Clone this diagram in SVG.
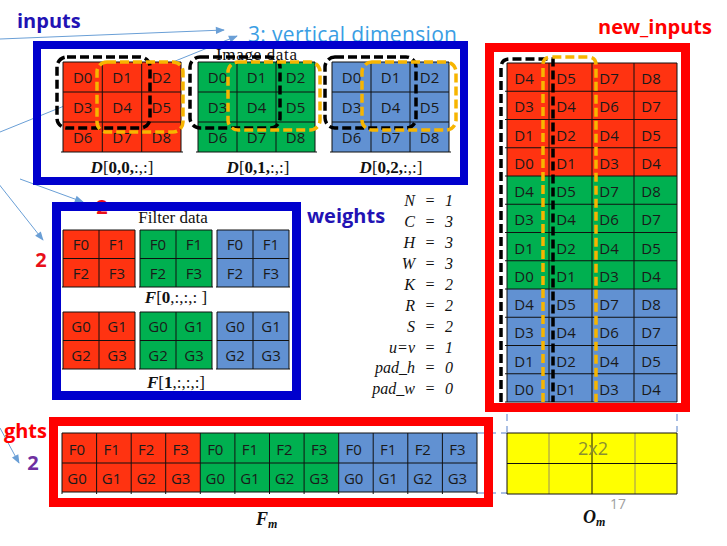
<svg xmlns="http://www.w3.org/2000/svg" width="727" height="546" viewBox="0 0 727 546">
<defs>
<style>
.rc{fill:#FF3311}.gc{fill:#00B050}.bc{fill:#6191D2}.yc{fill:#FFFF00}
.ln{stroke:#111;stroke-width:1;fill:none}
.ct{font-family:"Open Sans","Liberation Sans",sans-serif;font-size:15px;fill:#1a1a1a;text-anchor:middle}
.ttl{font-family:"Open Sans","Liberation Sans",sans-serif;font-size:20px;font-weight:bold}
.ser{font-family:"Liberation Serif","DejaVu Serif",serif;fill:#111}
.par{font-family:"Liberation Serif","DejaVu Serif",serif;font-style:italic;font-size:16px;fill:#111}
.arr{stroke:#6a9fd6;stroke-width:1;fill:none;marker-end:url(#ah)}
.kd{fill:none;stroke:#000;stroke-width:3.5;stroke-dasharray:9 4}
.yd{fill:none;stroke:#F7B500;stroke-width:3.5;stroke-dasharray:9 4}
.gd{fill:none;stroke:#8eaadb;stroke-width:1.5;stroke-dasharray:7 5}
.bbox{fill:none;stroke:#0000CD}
.rbox{fill:none;stroke:#FF0000}
</style>
<marker id="ah" viewBox="0 0 10 10" refX="9" refY="5" markerWidth="10" markerHeight="9" orient="auto" markerUnits="userSpaceOnUse"><path d="M0,1 L10,5 L0,9 z" fill="#6a9fd6"/></marker>
</defs>
<rect width="727" height="546" fill="#fff"/>

<!-- texts partly hidden behind boxes -->
<g id="labels-behind">
<text x="216" y="60" class="ser" font-size="17" textLength="81">Image data</text>
<text x="248" y="42" font-family="'Open Sans','Liberation Sans',sans-serif" font-size="21" fill="#3a9ee4" textLength="209">3: vertical dimension</text>
<text x="102" y="214" class="ttl" font-size="18" fill="#E8101A" text-anchor="middle">2</text>
</g>

<g id="connectors">
<path class="arr" d="M0,39 L224,30"/>
<path class="arr" d="M0,132 L237,36"/>
<path class="arr" d="M-2,183 L43,240"/>
<path class="arr" d="M20,179 L83,202"/>
<path class="arr" d="M0,428 L19,463"/>
<path class="gd" d="M507,414V432M677,414V432M477,433H507M477,493H507"/>
</g>

<g id="title-inputs"><text x="17" y="28" class="ttl" fill="#2212B4">inputs</text></g>
<g id="title-weights"><text x="307" y="223" class="ttl" fill="#2212B4">weights</text></g>
<g id="title-new-inputs"><text x="598" y="34" class="ttl" fill="#FF0000">new_inputs</text></g>
<g id="title-weights-cut"><text x="47" y="438" class="ttl" fill="#FF0000" text-anchor="end">ghts</text></g>
<g id="label-2-left"><text x="41" y="267" class="ttl" fill="#E8101A" text-anchor="middle">2</text></g>
<g id="label-2-purple"><text x="33" y="470" class="ttl" font-size="18" fill="#7030A0" text-anchor="middle">2</text></g>

<!-- Image data box -->
<g id="image-data">
<rect x="63" y="62" width="118" height="90" class="rc"/>
<path class="ln" d="M63,62H181M63,92H181M63,122H181M61,152H183M63,62V152M102.3,62V152M141.7,62V152M181,62V152"/>
<rect x="198" y="62" width="117" height="90" class="gc"/>
<path class="ln" d="M198,62H315M198,92H315M198,122H315M196,152H317M198,62V152M237,62V152M276,62V152M315,62V152"/>
<rect x="332" y="62" width="117" height="90" class="bc"/>
<path class="ln" d="M332,62H449M332,92H449M332,122H449M330,152H451M332,62V152M371,62V152M410,62V152M449,62V152"/>
<g class="ct" font-size="16">
<text x="82.7" y="83">D0</text><text x="122" y="83">D1</text><text x="161.3" y="83">D2</text>
<text x="82.7" y="113">D3</text><text x="122" y="113">D4</text><text x="161.3" y="113">D5</text>
<text x="82.7" y="143">D6</text><text x="122" y="143">D7</text><text x="161.3" y="143">D8</text>
<text x="217.5" y="83">D0</text><text x="256.5" y="83">D1</text><text x="295.5" y="83">D2</text>
<text x="217.5" y="113">D3</text><text x="256.5" y="113">D4</text><text x="295.5" y="113">D5</text>
<text x="217.5" y="143">D6</text><text x="256.5" y="143">D7</text><text x="295.5" y="143">D8</text>
<text x="351.5" y="83">D0</text><text x="390.5" y="83">D1</text><text x="429.5" y="83">D2</text>
<text x="351.5" y="113">D3</text><text x="390.5" y="113">D4</text><text x="429.5" y="113">D5</text>
<text x="351.5" y="143">D6</text><text x="390.5" y="143">D7</text><text x="429.5" y="143">D8</text>
</g>
<rect x="57" y="57" width="93" height="71" rx="10" class="kd"/>
<rect x="97" y="62" width="86" height="70" rx="10" class="yd"/>
<rect x="190" y="57" width="90" height="71" rx="10" class="kd"/>
<rect x="228" y="62" width="92" height="68" rx="10" class="yd"/>
<rect x="325" y="57" width="91" height="71" rx="10" class="kd"/>
<rect x="362" y="62" width="94" height="68" rx="10" class="yd"/>
<g class="ser" font-size="17" text-anchor="middle">
<text x="122" y="173"><tspan font-weight="bold" font-style="italic">D</tspan>[<tspan font-weight="bold">0,0,</tspan>:,:]</text>
<text x="258" y="173"><tspan font-weight="bold" font-style="italic">D</tspan>[<tspan font-weight="bold">0,1,</tspan>:,:]</text>
<text x="391" y="173"><tspan font-weight="bold" font-style="italic">D</tspan>[<tspan font-weight="bold">0,2,</tspan>:,:]</text>
</g>
<rect x="37" y="45" width="427" height="136" class="bbox" stroke-width="8"/>
</g>

<!-- Filter data box -->
<g id="filter-data">
<text x="173" y="223" class="ser" font-size="17" text-anchor="middle">Filter data</text>
<rect x="63" y="230" width="72" height="57" class="rc"/>
<rect x="140" y="230" width="72" height="57" class="gc"/>
<rect x="217" y="230" width="72" height="57" class="bc"/>
<rect x="63" y="312" width="72" height="57" class="rc"/>
<rect x="140" y="312" width="72" height="57" class="gc"/>
<rect x="217" y="312" width="72" height="57" class="bc"/>
<path class="ln" d="M63,230H135M63,258.5H135M62,287H136M63,230V287M99,230V287M135,230V287
M140,230H212M140,258.5H212M139,287H213M140,230V287M176,230V287M212,230V287
M217,230H289M217,258.5H289M216,287H290M217,230V287M253,230V287M289,230V287
M63,312H135M63,340.5H135M62,369H136M63,312V369M99,312V369M135,312V369
M140,312H212M140,340.5H212M139,369H213M140,312V369M176,312V369M212,312V369
M217,312H289M217,340.5H289M216,369H290M217,312V369M253,312V369M289,312V369"/>
<g class="ct" font-size="16">
<text x="81" y="250">F0</text><text x="117" y="250">F1</text><text x="81" y="278.5">F2</text><text x="117" y="278.5">F3</text>
<text x="158" y="250">F0</text><text x="194" y="250">F1</text><text x="158" y="278.5">F2</text><text x="194" y="278.5">F3</text>
<text x="235" y="250">F0</text><text x="271" y="250">F1</text><text x="235" y="278.5">F2</text><text x="271" y="278.5">F3</text>
<text x="81" y="332">G0</text><text x="117" y="332">G1</text><text x="81" y="360.5">G2</text><text x="117" y="360.5">G3</text>
<text x="158" y="332">G0</text><text x="194" y="332">G1</text><text x="158" y="360.5">G2</text><text x="194" y="360.5">G3</text>
<text x="235" y="332">G0</text><text x="271" y="332">G1</text><text x="235" y="360.5">G2</text><text x="271" y="360.5">G3</text>
</g>
<g class="ser" font-size="17" text-anchor="middle">
<text x="176" y="303"><tspan font-weight="bold" font-style="italic">F</tspan>[<tspan font-weight="bold">0</tspan>,:,:,: ]</text>
<text x="176" y="388"><tspan font-weight="bold" font-style="italic">F</tspan>[<tspan font-weight="bold">1</tspan>,:,:,:]</text>
</g>
<rect x="56.5" y="206.5" width="240" height="189" class="bbox" stroke-width="9"/>
</g>

<!-- Parameters -->
<g id="params" class="par">
<g text-anchor="end">
<text x="415" y="206">N</text><text x="415" y="227">C</text><text x="415" y="248">H</text><text x="415" y="269">W</text>
<text x="415" y="290">K</text><text x="415" y="311">R</text><text x="415" y="332">S</text><text x="415" y="353">u=v</text>
<text x="415" y="373">pad_h</text><text x="415" y="394">pad_w</text>
</g>
<g text-anchor="middle">
<text x="430" y="206">=</text><text x="430" y="227">=</text><text x="430" y="248">=</text><text x="430" y="269">=</text>
<text x="430" y="290">=</text><text x="430" y="311">=</text><text x="430" y="332">=</text><text x="430" y="353">=</text>
<text x="430" y="373">=</text><text x="430" y="394">=</text>
<text x="449" y="206">1</text><text x="449" y="227">3</text><text x="449" y="248">3</text><text x="449" y="269">3</text>
<text x="449" y="290">2</text><text x="449" y="311">2</text><text x="449" y="332">2</text><text x="449" y="353">1</text>
<text x="449" y="373">0</text><text x="449" y="394">0</text>
</g>
</g>

<!-- new_inputs box -->
<g id="new-inputs">
<rect x="507" y="63" width="170" height="113" class="rc"/>
<rect x="507" y="176" width="170" height="113" class="gc"/>
<rect x="507" y="289" width="170" height="113" class="bc"/>
<path class="ln" d="M507,63H677M505,91.25H677M505,119.5H677M505,147.75H677M505,176H677M505,204.25H677M505,232.5H677M505,260.75H677M505,289H677M505,317.25H677M505,345.5H677M505,373.75H677M505,402H677M507,63V402M549,63V402M592,63V402M634,63V402M677,63V402"/>
<g class="ct">
<text x="524" y="84">D4</text><text x="566" y="84">D5</text><text x="609" y="84">D7</text><text x="651" y="84">D8</text>
<text x="524" y="112.25">D3</text><text x="566" y="112.25">D4</text><text x="609" y="112.25">D6</text><text x="651" y="112.25">D7</text>
<text x="524" y="140.5">D1</text><text x="566" y="140.5">D2</text><text x="609" y="140.5">D4</text><text x="651" y="140.5">D5</text>
<text x="524" y="168.75">D0</text><text x="566" y="168.75">D1</text><text x="609" y="168.75">D3</text><text x="651" y="168.75">D4</text>
<text x="524" y="197">D4</text><text x="566" y="197">D5</text><text x="609" y="197">D7</text><text x="651" y="197">D8</text>
<text x="524" y="225.25">D3</text><text x="566" y="225.25">D4</text><text x="609" y="225.25">D6</text><text x="651" y="225.25">D7</text>
<text x="524" y="253.5">D1</text><text x="566" y="253.5">D2</text><text x="609" y="253.5">D4</text><text x="651" y="253.5">D5</text>
<text x="524" y="281.75">D0</text><text x="566" y="281.75">D1</text><text x="609" y="281.75">D3</text><text x="651" y="281.75">D4</text>
<text x="524" y="310">D4</text><text x="566" y="310">D5</text><text x="609" y="310">D7</text><text x="651" y="310">D8</text>
<text x="524" y="338.25">D3</text><text x="566" y="338.25">D4</text><text x="609" y="338.25">D6</text><text x="651" y="338.25">D7</text>
<text x="524" y="366.5">D1</text><text x="566" y="366.5">D2</text><text x="609" y="366.5">D4</text><text x="651" y="366.5">D5</text>
<text x="524" y="394.75">D0</text><text x="566" y="394.75">D1</text><text x="609" y="394.75">D3</text><text x="651" y="394.75">D4</text>
</g>
<path class="kd" d="M501,402V68Q501,59 510,59H553V402"/>
<path class="yd" d="M543,402V65Q543,57 551,57H588Q596,57 596,65V402"/>
<rect x="489.5" y="47.5" width="196" height="360" class="rbox" stroke-width="9"/>
</g>

<!-- F_m box -->
<g id="f-m">
<rect x="62" y="433" width="138.3" height="59" class="rc"/>
<rect x="200.3" y="433" width="138.4" height="59" class="gc"/>
<rect x="338.7" y="433" width="138.3" height="59" class="bc"/>
<path class="ln" d="M62,433H477M62,463H477M62,492H477M62,433V494M96.6,433V494M131.2,433V494M165.7,433V494M200.3,433V494M234.9,433V494M269.5,433V494M304.1,433V494M338.7,433V494M373.2,433V494M407.8,433V494M442.4,433V494M477,433V494"/>
<g class="ct">
<text x="77" y="455">F0</text><text x="111.6" y="455">F1</text><text x="146.2" y="455">F2</text><text x="180.7" y="455">F3</text>
<text x="215.3" y="455">F0</text><text x="249.9" y="455">F1</text><text x="284.5" y="455">F2</text><text x="319.1" y="455">F3</text>
<text x="353.7" y="455">F0</text><text x="388.2" y="455">F1</text><text x="422.8" y="455">F2</text><text x="457.4" y="455">F3</text>
<text x="77" y="483.5">G0</text><text x="111.6" y="483.5">G1</text><text x="146.2" y="483.5">G2</text><text x="180.7" y="483.5">G3</text>
<text x="215.3" y="483.5">G0</text><text x="249.9" y="483.5">G1</text><text x="284.5" y="483.5">G2</text><text x="319.1" y="483.5">G3</text>
<text x="353.7" y="483.5">G0</text><text x="388.2" y="483.5">G1</text><text x="422.8" y="483.5">G2</text><text x="457.4" y="483.5">G3</text>
</g>
<rect x="53.5" y="421.5" width="435" height="81" class="rbox" stroke-width="9"/>
<text x="256" y="525" class="ser" font-size="18" font-weight="bold" font-style="italic">F<tspan font-size="12" dy="3">m</tspan></text>
</g>

<!-- O_m -->
<g id="o-m">
<rect x="507" y="433" width="170" height="61" class="yc"/>
<path d="M549,433V494M635,433V494" stroke="#9a9060" stroke-width="1" fill="none"/>
<path class="ln" d="M507,433H677M507,463.5H677M507,494H677M507,433V494M592,433V494M677,433V494"/>
<text x="593" y="455" font-family="'Open Sans','Liberation Sans',sans-serif" font-size="18" fill="#8a9030" text-anchor="middle">2x2</text>
<text x="618" y="509" font-family="'Open Sans','Liberation Sans',sans-serif" font-size="14" fill="#a0a0a0" text-anchor="middle">17</text>
<text x="583" y="523" class="ser" font-size="18" font-weight="bold" font-style="italic">O<tspan font-size="12" dy="3">m</tspan></text>
</g>
</svg>
